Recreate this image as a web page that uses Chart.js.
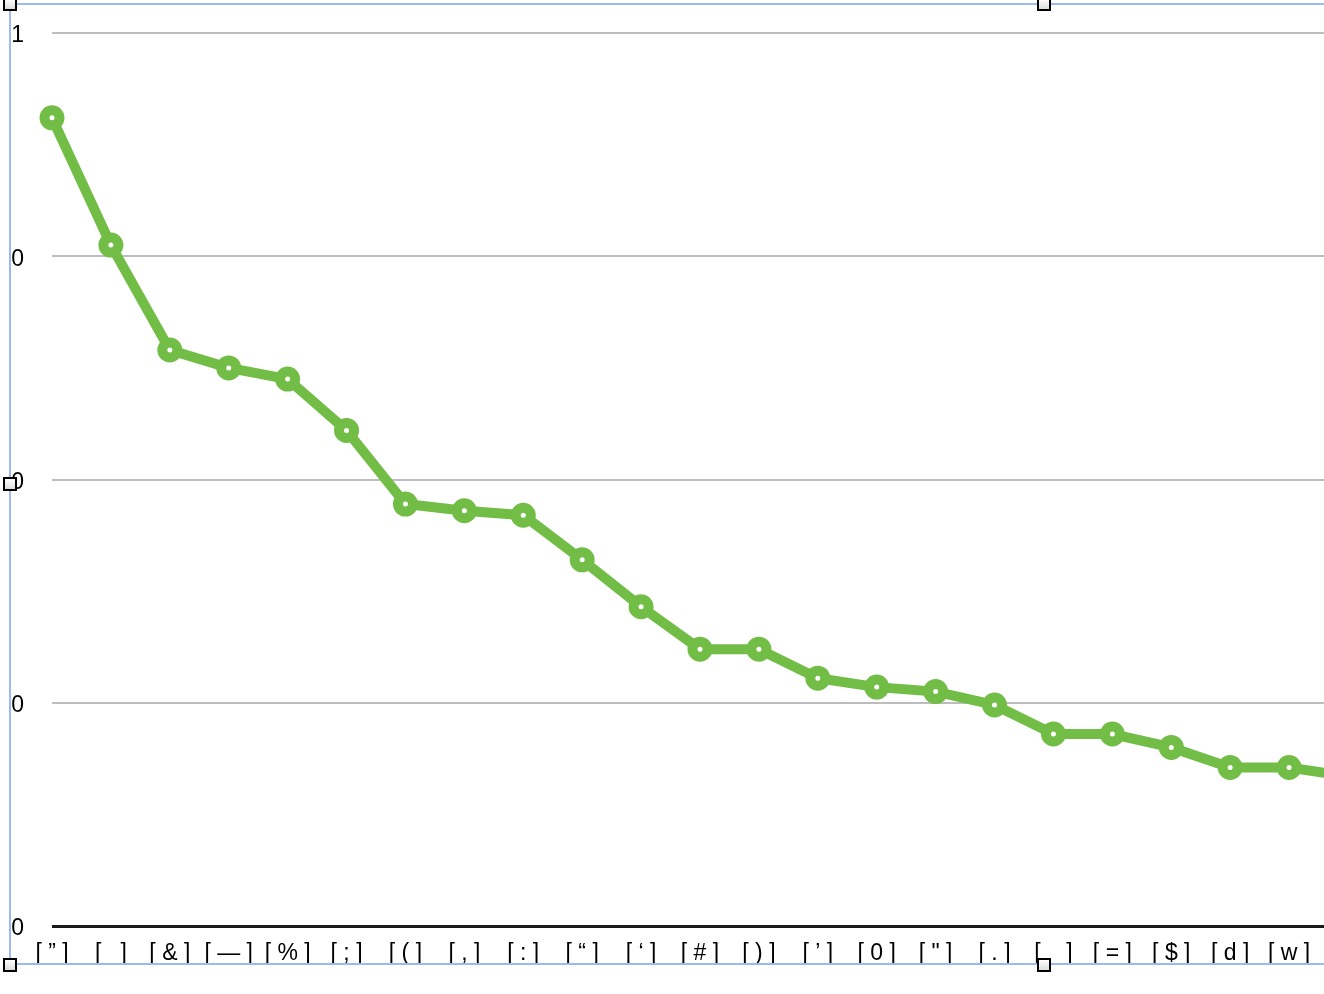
<!DOCTYPE html>
<html lang="en">
  <head>
    <meta charset="UTF-8" />
    <script src="https://cdn.jsdelivr.net/npm/chart.js@4.4.1/dist/chart.umd.min.js"></script>
    <title>Chart</title>
    <style>
      body { margin: 0; overflow: hidden; background: #fff; }
      #wrap { position: relative; width: 1324px; height: 994px; overflow: hidden; }
      canvas { position: absolute; left: 0; top: 0; }
      .sel { position: absolute; background: #9db8f4; }
      .handle {
        position: absolute; width: 10px; height: 10px;
        border: 2px solid #000; background: linear-gradient(#fff, #ddd);
      }
    </style>
  </head>
  <body>
    <div id="wrap">
      <canvas id="myChart" width="1400" height="994"></canvas>
      <!-- selection frame -->
      <div class="sel" style="left:9px;top:3px;width:1400px;height:2px"></div>
      <div class="sel" style="left:9px;top:3px;width:2px;height:962px"></div>
      <div class="sel" style="left:9px;top:963px;width:1400px;height:2px"></div>
      <div class="handle" style="left:3px;top:-3px"></div>
      <div class="handle" style="left:1037px;top:-3px"></div>
      <div class="handle" style="left:3px;top:477px"></div>
      <div class="handle" style="left:3px;top:958px"></div>
      <div class="handle" style="left:1037px;top:958px"></div>
    </div>

    <script>
      const labels = ['[ ” ]', '[   ]', '[ & ]', '[ — ]', '[ % ]', '[ ; ]', '[ ( ]', '[ , ]', '[ : ]', '[ “ ]', '[ ‘ ]',
        '[ # ]', '[ ) ]', '[ ’ ]', '[ 0 ]', '[ " ]', '[ . ]', '[ _ ]', '[ = ]', '[ $ ]', '[ d ]', '[ w ]', '[ x ]'];
      const values = [3.62, 3.05, 2.58, 2.50, 2.45, 2.22, 1.89, 1.86, 1.84, 1.64, 1.43,
        1.24, 1.24, 1.11, 1.07, 1.05, 0.99, 0.86, 0.86, 0.80, 0.71, 0.71, 0.67];
      const yTickLabels = ['0', '0', '0', '0', '1'];

      const green = '#71bd46';
      const font = { family: '"Liberation Sans", Arial, sans-serif', size: 23 };

      var ctx = document.getElementById('myChart').getContext('2d');
      var chart = new Chart(ctx, {
        type: 'line',
        data: {
          labels: labels,
          datasets: [
            {
              data: values,
              borderColor: green,
              borderWidth: 10,
              pointRadius: 7.5,
              pointBorderWidth: 10,
              pointBorderColor: green,
              pointBackgroundColor: '#fff',
              pointHoverRadius: 7.5,
              tension: 0,
            },
          ],
        },
        options: {
          responsive: false,
          animation: false,
          events: [],
          layout: { padding: { top: 33, right: 52, left: 0, bottom: 0 } },
          plugins: { legend: { display: false }, tooltip: { enabled: false } },
          scales: {
            x: {
              offset: false,
              grid: { display: false },
              border: { display: false },
              ticks: { color: '#000', font: font, padding: 6, maxRotation: 0, autoSkip: false },
              afterFit: function (s) {
                s.height = 68;
                s.paddingLeft = 0;
                s.paddingRight = 0;
              },
            },
            y: {
              min: 0,
              max: 4,
              border: { display: false },
              grid: {
                drawTicks: false,
                color: (c) => (c.tick.value === 0 ? '#1a1a1a' : '#bdbdbd'),
                lineWidth: (c) => (c.tick.value === 0 ? 3 : 2),
              },
              ticks: {
                stepSize: 1,
                color: '#000',
                font: font,
                padding: 28,
                labelOffset: 3,
                callback: (v) => yTickLabels[v],
              },
              afterFit: function (s) {
                s.width = 52;
                s.paddingTop = 0;
                s.paddingBottom = 0;
              },
            },
          },
        },
      });
    </script>
  </body>
</html>
